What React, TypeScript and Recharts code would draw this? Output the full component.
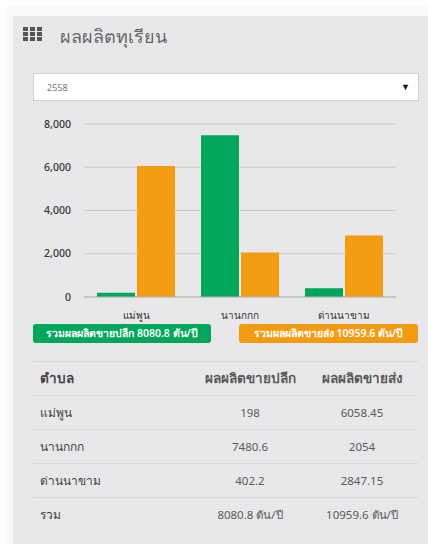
import { Bar, BarChart, CartesianGrid, XAxis, YAxis } from 'recharts';

const categories = ['แม่พูน', 'นานกกก', 'ด่านนาขาม'];
const retailValues = [198, 7480.6, 402.2];
const wholesaleValues = [6058.45, 2054, 2847.15];
const yTicks = [0, 2000, 4000, 6000, 8000];

const tableHeader = ['ตำบล', 'ผลผลิตขายปลีก', 'ผลผลิตขายส่ง'];
const tableRows = [
  ['แม่พูน', '198', '6058.45'],
  ['นานกกก', '7480.6', '2054'],
  ['ด่านนาขาม', '402.2', '2847.15'],
  ['รวม', '8080.8 ตัน/ปี', '10959.6 ตัน/ปี'],
];

const data = categories.map((name, i) => ({
  name,
  retail: retailValues[i],
  wholesale: wholesaleValues[i],
}));

const FONT = '"Noto Sans", "Open Sans", sans-serif';
const GREEN = '#00a65a';
const ORANGE = '#f39c12';
const RULE = '#d8d8da';

const rowTops = [361, 395, 429, 463, 497];

const Badge = ({ left, width, color, text }: { left: number; width: number; color: string; text: string }) => (
  <div
    style={{
      position: 'absolute',
      left,
      top: 324,
      width,
      height: 19,
      lineHeight: '18px',
      background: color,
      borderRadius: 3,
      color: '#fff',
      fontSize: 10.5,
      fontWeight: 600,
      textAlign: 'center',
      whiteSpace: 'nowrap',
    }}
  >
    {text}
  </div>
);

const Row = ({ cells, top, bold }: { cells: string[]; top: number; bold?: boolean }) => (
  <div
    style={{
      position: 'absolute',
      left: 33,
      top,
      width: 385,
      height: 34,
      lineHeight: '33px',
      borderTop: `1px solid ${RULE}`,
      fontSize: bold ? 13.5 : 11.5,
      fontWeight: bold ? 700 : 400,
      color: '#5a5a5a',
    }}
  >
    <span style={{ position: 'absolute', left: 7, fontSize: bold ? 13.5 : 12, color: '#444' }}>{cells[0]}</span>
    <span style={{ position: 'absolute', left: 149, width: 136, textAlign: 'center', whiteSpace: 'nowrap' }}>{cells[1]}</span>
    <span style={{ position: 'absolute', left: 274, width: 110, textAlign: 'center', whiteSpace: 'nowrap' }}>{cells[2]}</span>
  </div>
);

export default function App() {
  return (
    <div style={{ position: 'absolute', left: 0, top: 0, width: 428, height: 544, overflow: 'hidden', background: '#fff', fontFamily: FONT }}>
      <div style={{ position: 'absolute', left: 6, top: 7, width: 422, height: 537, background: '#f9f9f9' }} />
      <div style={{ position: 'absolute', left: 13, top: 16, width: 415, height: 528, background: '#e8e8ea' }} />

      {/* grid icon */}
      <div style={{ position: 'absolute', left: 23, top: 27, width: 19, display: 'grid', gridTemplateColumns: 'repeat(3, 5px)', gridAutoRows: '4px', gap: '1px 2px' }}>
        {Array.from({ length: 9 }, (_, i) => (
          <div key={i} style={{ background: '#555' }} />
        ))}
      </div>
      <div style={{ position: 'absolute', left: 60, top: 23, fontSize: 18, lineHeight: '26px', color: '#666' }}>ผลผลิตทุเรียน</div>

      {/* year select */}
      <div style={{ position: 'absolute', left: 33, top: 73, width: 384, height: 26, background: '#fff', border: '1px solid #cfcfcf' }}>
        <span style={{ position: 'absolute', left: 13, top: 0, lineHeight: '28px', fontSize: 9, color: '#777' }}>2558</span>
        <span style={{ position: 'absolute', right: 8, top: 0, lineHeight: '25px', fontSize: 9, color: '#111' }}>▼</span>
      </div>

      <div style={{ position: 'absolute', left: 0, top: 0 }}>
        <BarChart
          width={428}
          height={330}
          data={data}
          barSize={38}
          barGap={2}
          margin={{ top: 124, right: 32, bottom: 3, left: 39 }}
        >
          <CartesianGrid vertical={false} stroke="#c9c9cb" />
          <XAxis
            dataKey="name"
            height={30}
            tickLine={false}
            axisLine={{ stroke: '#b5b5b7' }}
            tickMargin={9}
            interval={0}
            tick={{ fontSize: 10, fill: '#333', fontFamily: FONT }}
          />
          <YAxis
            width={45}
            domain={[0, 8000]}
            ticks={yTicks}
            tickLine={false}
            axisLine={false}
            tickMargin={7}
            tickFormatter={(v: number) => v.toLocaleString('en-US')}
            tick={{ fontSize: 10.5, fontWeight: 500, fill: '#333', fontFamily: FONT }}
          />
          <Bar dataKey="retail" fill={GREEN} isAnimationActive={false} />
          <Bar dataKey="wholesale" fill={ORANGE} isAnimationActive={false} />
        </BarChart>
      </div>

      <Badge left={33} width={178} color={GREEN} text="รวมผลผลิตขายปลีก 8080.8 ตัน/ปี" />
      <Badge left={239} width={179} color={ORANGE} text="รวมผลผลิตขายส่ง 10959.6 ตัน/ปี" />

      <Row cells={tableHeader} top={rowTops[0]} bold />
      {tableRows.map((cells, i) => (
        <Row key={cells[0]} cells={cells} top={rowTops[i + 1]} />
      ))}
    </div>
  );
}
